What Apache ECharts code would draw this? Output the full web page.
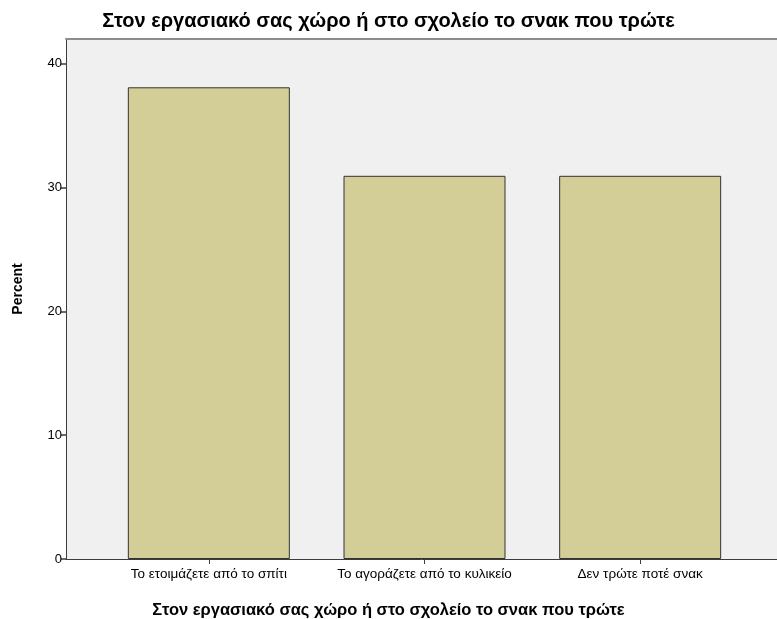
<!DOCTYPE html>
<html>
<head>
    <meta charset="utf-8">
    <title>ECharts</title>
    <script src="https://cdn.jsdelivr.net/npm/echarts@6/dist/echarts.min.js"></script>
</head>
<body style="margin:0;background:#fff;">
    <div id="main" style="width:777px;height:619px;"></div>
</body>
</html>
<script>
var chartTitle = 'Στον εργασιακό σας χώρο ή στο σχολείο το σνακ που τρώτε';
var yName = 'Percent';
var categories = ['Το ετοιμάζετε από το σπίτι', 'Το αγοράζετε από το κυλικείο', 'Δεν τρώτε ποτέ σνακ'];
var percents = [38.1, 30.95, 30.95];
var yTicks = [0, 10, 20, 30, 40];

var myChart = echarts.init(document.getElementById('main'));

var yMax = 42;

option = {
    backgroundColor: '#ffffff',
    animation: false,
    title: [{
        text: chartTitle,
        left: 'center',
        top: 6,
        textStyle: {
            fontFamily: 'Liberation Sans, Arial',
            fontSize: 20,
            fontWeight: 'bold',
            color: '#000'
        }
    }, {
        text: chartTitle,
        left: 'center',
        top: 597,
        textStyle: {
            fontFamily: 'Liberation Sans, Arial',
            fontSize: 16.5,
            fontWeight: 'bold',
            color: '#000'
        }
    }],
    graphic: [{
        type: 'text',
        x: 18,
        y: 289,
        rotation: Math.PI / 2,
        style: {
            text: yName,
            align: 'center',
            verticalAlign: 'middle',
            font: 'bold 14px "Liberation Sans", Arial',
            fill: '#000'
        }
    }],
    // grid 0 = plot frame + y axis, grid 1 = bars (SPSS pads the category range)
    grid: [{
        left: 66, right: 0, top: 39, bottom: 60,
        show: true,
        backgroundColor: '#f0f0f0',
        borderWidth: 0
    }, {
        left: 101, right: 29, top: 39, bottom: 60
    }],
    xAxis: [{
        gridIndex: 0,
        type: 'value',
        min: 0,
        max: 1,
        axisLine: { show: true, onZero: false, lineStyle: { color: '#3c3c3c', width: 1 } },
        axisTick: { show: false },
        axisLabel: { show: false },
        splitLine: { show: false }
    }, {
        gridIndex: 1,
        type: 'category',
        data: categories,
        axisLine: { show: false },
        axisTick: { show: true, alignWithLabel: true, length: 5, lineStyle: { color: '#3c3c3c' } },
        axisLabel: {
            interval: 0,
            hideOverlap: false,
            margin: 8,
            fontFamily: 'Liberation Sans, Arial',
            fontSize: 13.5,
            color: '#000'
        }
    }, {
        gridIndex: 0,
        type: 'value',
        position: 'top',
        min: 0,
        max: 1,
        axisLine: { show: true, onZero: false, lineStyle: { color: '#8c8c8c', width: 2 } },
        axisTick: { show: false },
        axisLabel: { show: false },
        splitLine: { show: false }
    }],
    yAxis: [{
        gridIndex: 0,
        type: 'value',
        min: 0,
        max: yMax,
        interval: 10,
        axisLine: { show: true, lineStyle: { color: '#3c3c3c', width: 1 } },
        axisTick: { show: true, length: 5, lineStyle: { color: '#3c3c3c', width: 1.5 } },
        axisLabel: {
            showMaxLabel: false,
            margin: 4,
            fontFamily: 'Liberation Sans, Arial',
            fontSize: 13,
            color: '#000',
            formatter: function (v) {
                return yTicks.indexOf(v) >= 0 ? String(v) : '';
            }
        },
        splitLine: { show: false }
    }, {
        gridIndex: 1,
        type: 'value',
        min: 0,
        max: yMax,
        show: false
    }],
    series: [{
        type: 'bar',
        xAxisIndex: 1,
        yAxisIndex: 1,
        data: percents,
        barWidth: 162,
        itemStyle: {
            color: '#d3ce97',
            borderColor: '#333333',
            borderWidth: 1
        }
    }]
};

myChart.setOption(option);
</script>
